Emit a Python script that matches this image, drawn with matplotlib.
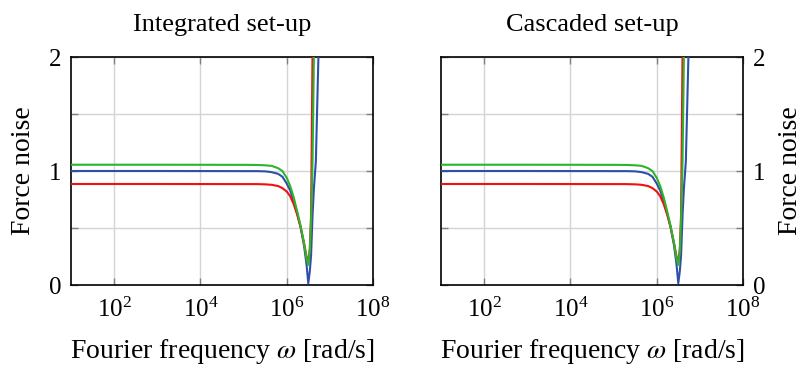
import numpy as np
import matplotlib
matplotlib.use('Agg')
import matplotlib.pyplot as plt

plt.rcParams['font.family'] = ['Liberation Serif', 'DejaVu Serif']
plt.rcParams['mathtext.fontset'] = 'stix'

# angular frequency samples [rad/s]
omega = [1e1, 1e3, 1e5, 2.0e5, 3.16e5, 4.47e5, 6.31e5, 7.94e5, 1.0e6, 1.2e6,
         1.45e6, 1.74e6, 2.09e6, 2.51e6, 2.88e6, 3.16e6, 3.43e6, 3.67e6,
         3.98e6, 4.27e6, 4.73e6, 5.43e6, 6.3e6]

# force noise per curve (same readings for both set-ups)
noise_green = [1.055, 1.055, 1.054, 1.053, 1.05, 1.045, 1.025, 1.0, 0.94, 0.87,
               0.77, 0.65, 0.52, 0.37, 0.23, 0.175, 0.30, 0.56, 1.10, 2.0,
               3.5, 6.0, 8.0]
noise_blue = [1.0, 1.0, 0.999, 0.999, 0.997, 0.99, 0.975, 0.95, 0.89, 0.83,
              0.74, 0.63, 0.51, 0.35, 0.18, 0.015, 0.12, 0.26, 0.62, 0.85,
              1.08, 2.0, 3.5]
noise_red = [0.886, 0.886, 0.885, 0.885, 0.883, 0.879, 0.868, 0.85, 0.82, 0.78,
             0.71, 0.62, 0.51, 0.37, 0.25, 0.19, 0.32, 0.62, 2.1, 3.5,
             5.0, 7.0, 9.0]

titles = ['Integrated set-up', 'Cascaded set-up']
x_ticks = [1e2, 1e4, 1e6, 1e8]
y_ticks = [0, 0.5, 1, 1.5, 2]
y_ticklabels = ['0', '', '1', '', '2']

fig = plt.figure(figsize=(8.09, 3.67), dpi=100)
ax_left = fig.add_axes([71 / 809, 82 / 367, 302 / 809, 228 / 367])
ax_right = fig.add_axes([441 / 809, 82 / 367, 302 / 809, 228 / 367])

for ax, title in zip([ax_left, ax_right], titles):
    ax.plot(omega, noise_blue, color='#2f50a8', lw=1.5, zorder=3)
    ax.plot(omega, noise_red, color='#f01010', lw=1.5, zorder=3)
    ax.plot(omega, noise_green, color='#2cb52c', lw=1.5, zorder=4)

    ax.set_xscale('log')
    ax.set_xlim(1e1, 1e8)
    ax.set_ylim(0, 2)
    ax.set_xticks(x_ticks)
    ax.minorticks_off()
    ax.set_yticks(y_ticks)
    ax.set_yticklabels(y_ticklabels)
    ax.grid(True, color='#d4d4d4', lw=1.0, zorder=0)
    ax.tick_params(direction='in', length=5, width=1.0, color='#808080',
                   top=True, right=True, labelsize=18, pad=7)
    ax.tick_params(axis='x', pad=9)
    for sp in ax.spines.values():
        sp.set_linewidth(1.2)
    ax.set_title(title, fontsize=19, pad=19)
    ax.set_xlabel(r'Fourier frequency $\omega$ [rad/s]', fontsize=20, labelpad=11)
    ax.set_ylabel('Force noise', fontsize=20, labelpad=9)

ax_right.yaxis.set_label_position('right')
ax_right.tick_params(labelleft=False, labelright=True)

fig.savefig('out.png', dpi=100)
